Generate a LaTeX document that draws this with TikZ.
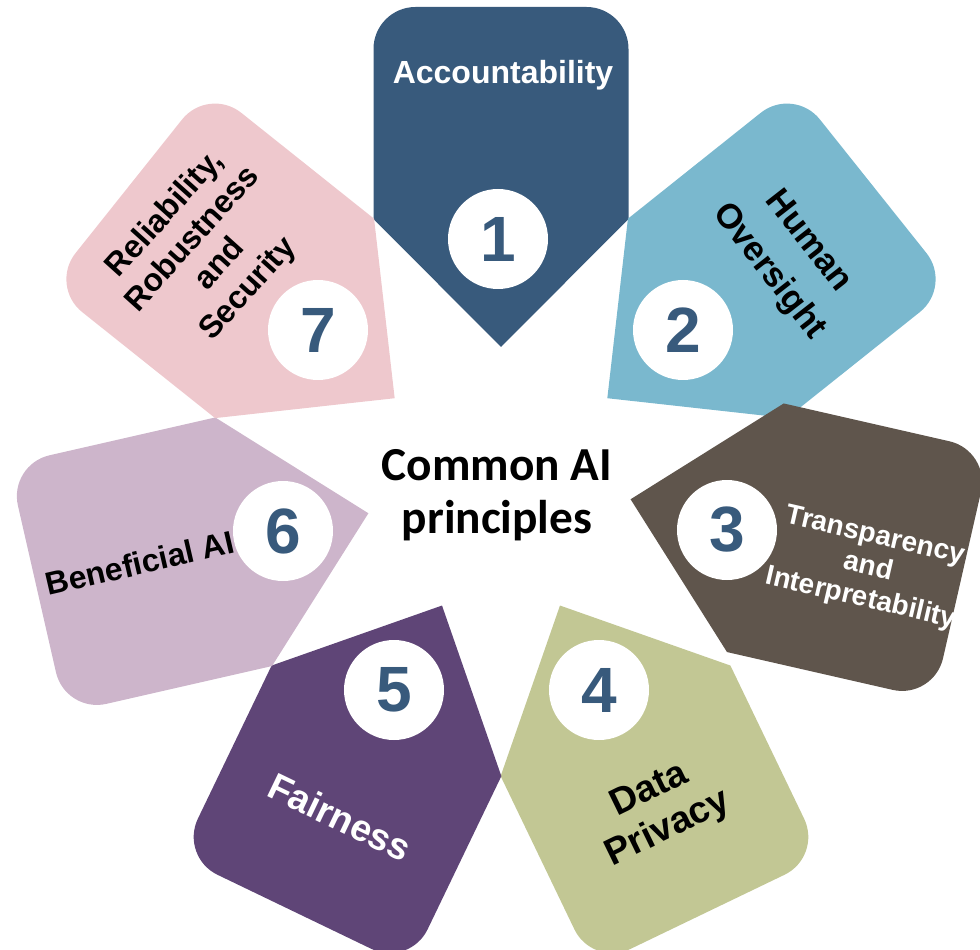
\documentclass[tikz,border=0pt]{standalone}
\usepackage{fontspec}
\setmainfont{Liberation Sans}
\newfontfamily\calibri{Carlito}
\usepackage{xcolor}

\definecolor{accblue}{HTML}{385A7C}
\definecolor{oversight}{HTML}{7AB8CE}
\definecolor{transp}{HTML}{5F554C}
\definecolor{privacy}{HTML}{C2C794}
\definecolor{fairness}{HTML}{5F4577}
\definecolor{benefit}{HTML}{CDB5CB}
\definecolor{reliab}{HTML}{EEC8CD}

\begin{document}
\begin{tikzpicture}[x=0.75pt, y=0.75pt,
      petal/.pic={\path[pic actions] (0,136) -- (-127.5,264) -- (-127.5,434)
                    arc[start angle=180, end angle=90, radius=42] -- (85.5,476)
                    arc[start angle=90, end angle=0, radius=42] -- (127.5,264) -- cycle;},
      num/.style={circle, fill=white, minimum size=75pt, inner sep=0pt,
                  font=\fontsize{48}{48}\selectfont\bfseries, text=accblue},
      ptext/.style={align=center, font=\fontsize{24}{28}\selectfont\bfseries},
      title/.style={align=center, font=\calibri\fontsize{35.5}{40}\selectfont\bfseries}
    ]
    \clip (-501,-466) rectangle (479,483);

    \pic[fill=accblue]                 at (0,0)  {petal};
    \pic[fill=oversight, rotate=-51.43]  at (0,0)  {petal};
    \pic[fill=transp,    rotate=-102.86] at (-3,14) {petal};
    \pic[fill=privacy,   rotate=-154.29] at (0,0)  {petal};
    \pic[fill=fairness,  rotate=-205.71] at (0,0)  {petal};
    \pic[fill=benefit,   rotate=-257.14] at (0,0)  {petal};
    \pic[fill=reliab,    rotate=-308.57] at (0,0)  {petal};

    \node[num] (n1) at (-3,244)   {1};
    \node[num] (n2) at (182,153)  {2};
    \node[num] (n3) at (226,-47)  {3};
    \node[num] (n4) at (98,-207)  {4};
    \node[num] (n5) at (-107,-207) {5};
    \node[num] (n6) at (-218,-48) {6};
    \node[num] (n7) at (-183,153) {7};

    \node[ptext, text=white] (t1) at (2,408) {Accountability};
    \node[ptext, rotate=-52, font=\fontsize{26}{37}\selectfont\bfseries] (t2) at (287,226) {Human\\Oversight};
    \node[ptext, text=white, rotate=-13, font=\fontsize{21}{24}\selectfont\bfseries] (t3) at (367,-85) {Transparency\\and\\Interpretability};
    \node[ptext, rotate=26, font=\fontsize{28}{32}\selectfont\bfseries] (t4) at (158,-327) {Data\\Privacy};
    \node[ptext, text=white, rotate=-25.7, font=\fontsize{28}{32}\selectfont\bfseries] (t5) at (-161,-334) {Fairness};
    \node[ptext, rotate=13] (t6) at (-361,-80) {Beneficial AI};
    \node[ptext, rotate=48] (t7) at (-294,231) {Reliability,\\Robustness\\and\\Security};

    \node[title] (title) at (-4,-12) {Common AI\\principles};
  \end{tikzpicture}
\end{document}
